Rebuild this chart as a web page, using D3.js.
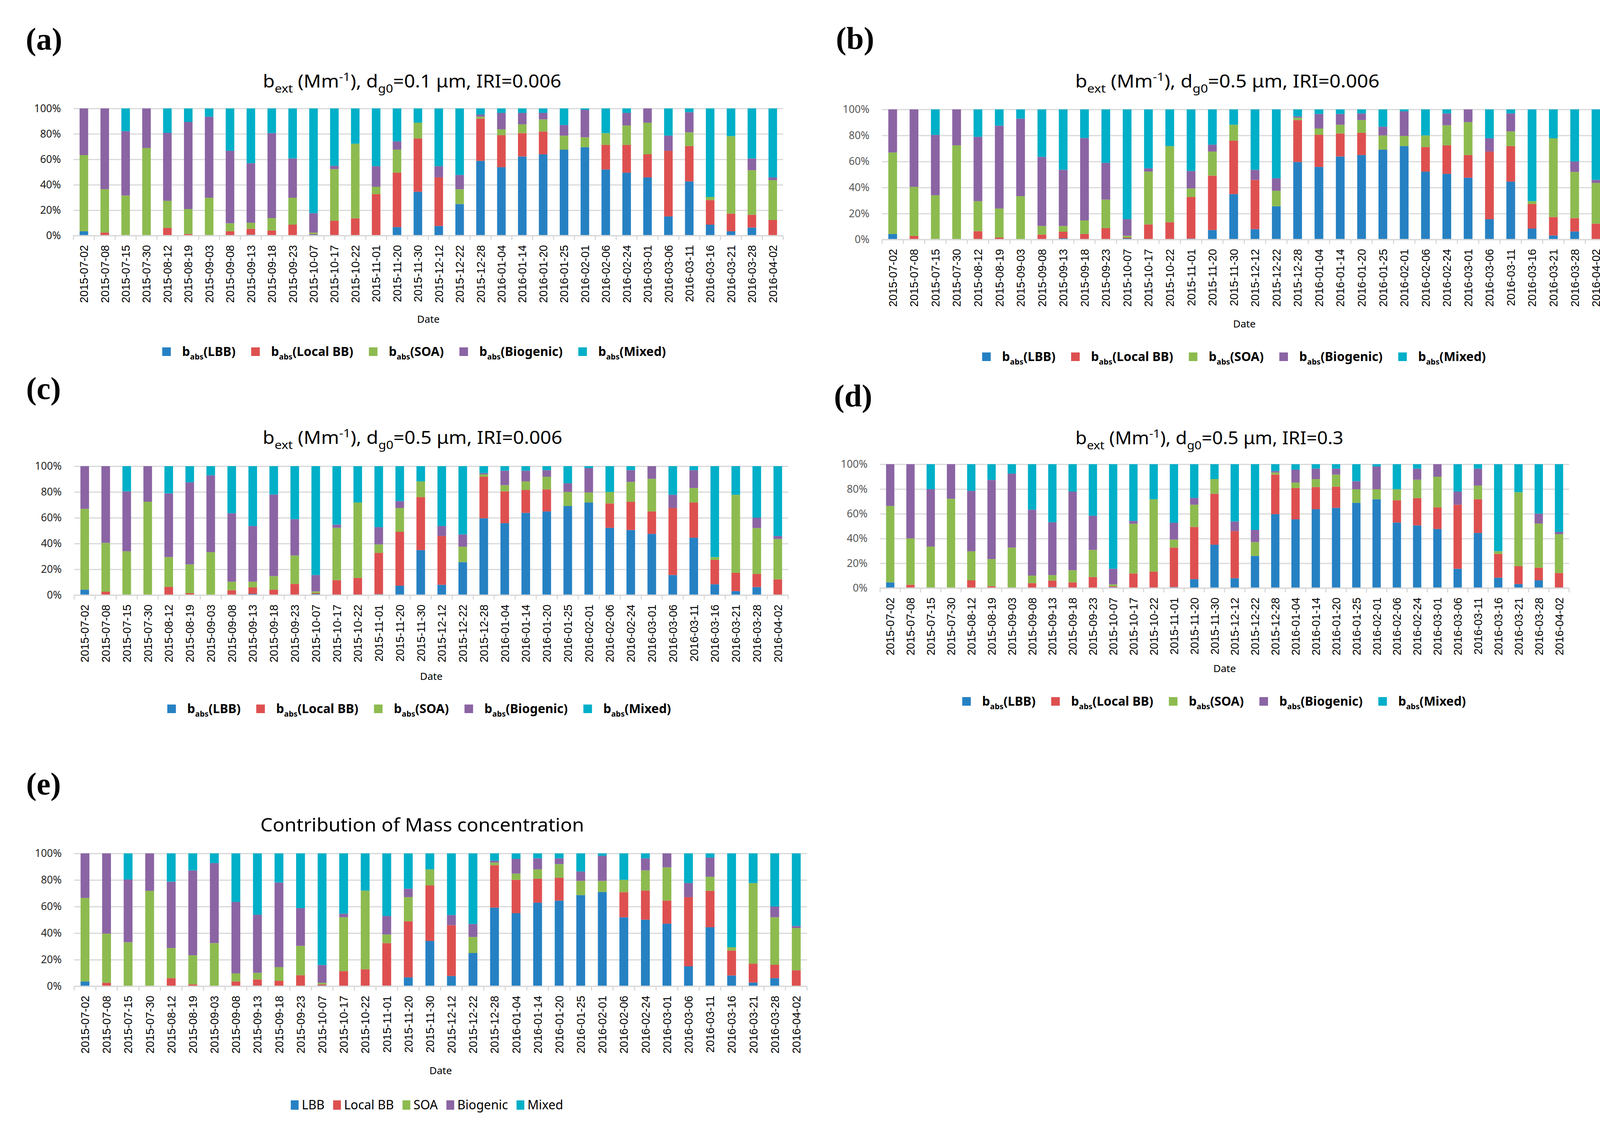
<!DOCTYPE html>
<html><head><meta charset="utf-8">
<script src="https://cdn.jsdelivr.net/npm/d3@7"></script>
<style>body{margin:0;background:#fff;overflow:hidden} svg{display:block} text{white-space:pre}</style>
</head><body>
<svg id="chart" width="4158" height="2897"></svg>
<script>
// ---------- DATA ----------
const dates = ["2015-07-02","2015-07-08","2015-07-15","2015-07-30","2015-08-12","2015-08-19","2015-09-03","2015-09-08","2015-09-13","2015-09-18","2015-09-23","2015-10-07","2015-10-17","2015-10-22","2015-11-01","2015-11-20","2015-11-30","2015-12-12","2015-12-22","2015-12-28","2016-01-04","2016-01-14","2016-01-20","2016-01-25","2016-02-01","2016-02-06","2016-02-24","2016-03-01","2016-03-06","2016-03-11","2016-03-16","2016-03-21","2016-03-28","2016-04-02"];
const seriesKeys = ["LBB","Local BB","SOA","Biogenic","Mixed"];
const seriesColors = ["#2681c3","#de5050","#8dbb4f","#8b64a4","#00afc8"];
const yTickValues = [0,0.2,0.4,0.6,0.8,1];

// (a) b_ext, dg0=0.1 um, IRI=0.006
const lbbA   = [3.4,0,0,0,0,0,0,0,0.7,0,0,0.9,0,0,0,6.7,34.5,7.6,24.8,58.8,53.8,62.2,63.9,67.6,69.5,52.0,49.5,45.8,15.1,42.6,8.6,3.4,6.3,0];
const localA = [0,2.4,0,0,6.1,1.3,0,3.4,4.7,4.1,8.6,0.4,11.7,13.6,32.6,42.8,41.9,38.2,0,33.2,25.2,18.4,18.0,0,0,19.3,21.8,18.1,51.6,27.8,19.3,13.9,10.1,12.3];
const soaA   = [59.9,34.1,31.5,68.9,21.3,19.6,29.8,6.3,4.7,9.7,21.2,1.1,40.6,58.7,5.8,18.1,12.4,0,11.7,1.5,4.6,6.9,9.5,11.0,7.8,9.3,15.3,24.9,0,10.8,2.5,60.9,35.0,31.3];
const bioA   = [36.7,63.5,50.6,31.1,53.4,68.5,63.7,57.0,46.9,66.8,30.9,15.3,2.6,0,16.2,6.5,0,8.8,11.2,1.7,12.9,9.0,5.1,8.4,21.6,0,9.9,11.2,11.9,15.8,0,0,9.3,2.2];
const mixA   = [0,0,17.9,0,19.2,10.6,6.5,33.3,43.0,19.4,39.3,82.3,45.1,27.7,45.4,25.9,11.2,45.4,52.3,4.8,3.5,3.5,3.5,13.0,1.1,19.4,3.5,0,21.4,3.0,69.6,21.8,39.3,54.2];

// (b) and (c) b_ext, dg0=0.5 um, IRI=0.006
const lbbB   = [4.2,0,0,0,0,0,0,0,0.9,0,0,0.9,0,0,0.7,7.3,34.9,8.0,25.6,59.6,55.8,63.8,64.9,69.1,71.8,52.2,50.5,47.5,15.6,44.5,8.4,3.1,6.2,0];
const localB = [0,2.7,0,0,6.4,1.5,0,3.8,5.1,4.2,8.7,0.6,11.6,13.3,32.0,41.8,41.1,37.8,0,32.2,24.7,17.7,17.1,0,0,18.9,21.9,17.4,52.0,27.3,18.9,14.2,10.2,12.2];
const soaB   = [62.7,37.8,34.0,72.4,23.1,22.3,33.3,6.6,4.4,10.5,22.0,1.4,40.6,58.5,6.6,18.5,12.2,0,11.9,1.8,4.8,6.7,9.8,10.9,7.8,8.9,15.4,25.3,0,11.3,2.2,60.5,35.6,31.3];
const bioB   = [33.1,59.5,46.4,27.6,49.4,63.7,59.6,53.1,43.2,63.3,28.2,12.7,2.5,0,13.4,5.3,0,7.8,9.6,1.1,11.2,8.3,5.1,6.7,18.9,0,9.1,9.8,10.2,13.8,0,0,8.0,2.3];
const mixB   = [0,0,19.6,0,21.1,12.5,7.1,36.5,46.4,22.0,41.1,84.4,45.3,28.2,47.3,27.1,11.8,46.4,52.9,5.3,3.5,3.5,3.1,13.3,1.5,20.0,3.1,0,22.2,3.1,70.5,22.2,40.0,54.2];

// (d) b_ext, dg0=0.5 um, IRI=0.3
const lbbD   = [4.6,0,0,0,0,0,0,0,0.8,0,0,0.8,0,0,0.8,7.2,35.0,8.0,26.0,59.7,55.5,63.7,64.8,68.8,71.7,52.9,50.6,47.7,15.6,44.5,8.4,3.2,6.3,0];
const localD = [0,2.7,0,0,6.3,1.5,0,4.0,5.3,4.6,8.9,0.7,11.8,13.3,31.9,42.2,41.2,38.0,0,31.9,25.3,17.9,17.1,0,0,18.0,22.0,17.5,51.7,27.2,19.2,14.5,10.2,12.2];
const soaD   = [61.7,37.4,33.5,72.1,23.4,21.9,32.7,6.1,4.4,9.8,21.9,1.5,40.1,58.4,6.5,17.9,11.8,0,11.1,1.7,4.4,6.4,9.7,11.0,8.1,8.9,14.9,24.7,0,11.0,2.2,59.7,35.6,31.3];
const bioD   = [33.7,59.9,46.3,27.9,48.8,63.9,59.7,53.2,42.7,63.5,27.6,12.6,2.3,0,13.5,5.5,0,7.8,9.9,1.2,10.4,8.4,4.8,6.5,18.3,0,8.9,10.1,10.6,13.7,0,0,8.0,1.9];
const mixD   = [0,0,20.2,0,21.5,12.7,7.6,36.7,46.8,22.1,41.6,84.4,45.8,28.3,47.3,27.2,12.0,46.2,53.0,5.5,4.4,3.6,3.6,13.7,1.9,20.2,3.6,0,22.1,3.6,70.2,22.6,39.9,54.6];

// (e) Contribution of mass concentration
const lbbE   = [3.6,0,0,0,0,0,0,0,0.5,0,0,0.6,0,0,0.5,6.7,34.1,7.7,25.0,59.2,55.0,62.9,64.5,68.6,71.0,51.9,50.1,47.1,15.0,44.4,8.1,2.8,6.1,0];
const localE = [0,2.6,0,0,6.1,1.4,0,3.6,4.6,4.1,8.3,0.8,11.4,12.8,32.0,42.2,41.8,38.3,0,31.9,25.1,18.0,17.2,0,0,18.9,21.9,17.4,52.1,27.4,18.7,14.2,10.1,12.0];
const soaE   = [62.9,37.0,33.1,71.8,22.7,21.9,32.5,6.1,5.0,10.3,22.1,1.2,40.5,59.2,6.4,18.2,12.1,0,12.1,2.0,4.7,7.1,10.2,10.7,8.3,9.3,15.2,25.0,0,10.6,2.6,60.7,35.7,31.8];
const bioE   = [33.5,60.4,47.2,28.2,49.9,63.9,60.2,53.8,43.7,63.7,28.4,13.4,2.7,0,14.0,6.3,0,7.6,9.8,1.4,11.1,8.3,4.4,7.1,18.9,0,9.1,10.5,10.6,14.4,0,0,8.1,1.6];
const mixE   = [0,0,19.7,0,21.3,12.8,7.3,36.5,46.2,21.9,41.2,84.0,45.4,28.0,47.1,26.6,12.0,46.4,53.1,5.5,4.1,3.7,3.7,13.6,1.8,19.9,3.7,0,22.3,3.2,70.6,22.3,40.0,54.6];

// ---------- LAYOUT ----------
const svg = d3.select("#chart");
svg.append("rect").attr("width",4158).attr("height",2897).attr("fill","#fff");

function bextTitle(dg, iri){
  return [["b",""],["ext","sub"],[" (Mm",""],["-1","sup"],["), d",""],["g0","sub"],["="+dg+" \u03bcm, IRI="+iri,""]];
}

const panels = [
  {label:"(a)", lx:66, ly:127, title:bextTitle("0.1","0.006"), tcx:1055, ty:224, tw:764, tsize:45,
   x0:188, x1:2005, yT:277.5, yB:603, dateY:826, lcx:1060, lgY:900, tick:"#1a1a1a",
   series:[lbbA,localA,soaA,bioA,mixA], legendAbs:true},
  {label:"(b)", lx:2140, ly:125, title:bextTitle("0.5","0.006"), tcx:3142, ty:224, tw:779, tsize:45,
   x0:2258, x1:4113, yT:280, yB:613, dateY:838, lcx:3159, lgY:913, tick:"#595959",
   series:[lbbB,localB,soaB,bioB,mixB], legendAbs:true},
  {label:"(c)", lx:67, ly:1021, title:bextTitle("0.5","0.006"), tcx:1056, ty:1136, tw:767, tsize:45,
   x0:190, x1:2018, yT:1193, yB:1523, dateY:1740, lcx:1073, lgY:1814, tick:"#262626",
   series:[lbbB,localB,soaB,bioB,mixB], legendAbs:true},
  {label:"(d)", lx:2135, ly:1040, title:bextTitle("0.5","0.3"), tcx:3096, ty:1137, tw:686, tsize:45,
   x0:2253, x1:4017, yT:1188, yB:1505, dateY:1720, lcx:3108, lgY:1795, tick:"#595959",
   series:[lbbD,localD,soaD,bioD,mixD], legendAbs:true},
  {label:"(e)", lx:67, ly:2033, title:[["Contribution of Mass concentration",""]], tcx:1081, ty:2128, tw:829, tsize:47,
   x0:190, x1:2066, yT:2184, yB:2524, dateY:2749, lcx:1093, lgY:2828, tick:"#262626",
   series:[lbbE,localE,soaE,bioE,mixE], legendAbs:false}
];

function richText(sel, segs, size, scale){
  let shift = 0;
  segs.forEach(([t,mode])=>{
    const target = mode==="sub" ? size*0.28 : mode==="sup" ? -size*0.38 : 0;
    const ts = sel.append("tspan").text(t).attr("dy", target - shift);
    if(mode) ts.attr("font-size", size*scale);
    shift = target;
  });
}
function fitWidth(sel, target, cx){
  const w = sel.node().getBBox().width;
  if(w>0){ const k = target/w; sel.attr("transform",`translate(${cx},0) scale(${k},1) translate(${-cx},0)`); }
}

panels.forEach(p=>{
  const g = svg.append("g");
  // panel label
  g.append("text").attr("x",p.lx).attr("y",p.ly).text(p.label)
    .attr("font-family","Liberation Serif").attr("font-weight","bold").attr("font-size",80).attr("fill","#000");
  // title
  const t = g.append("text").attr("x",p.tcx).attr("y",p.ty).attr("text-anchor","middle")
    .attr("font-family","Noto Sans").attr("font-size",p.tsize).attr("fill","#000");
  richText(t, p.title, p.tsize, 0.66);
  fitWidth(t, p.tw, p.tcx);

  // data table
  const rows = dates.map((d,i)=>{const r={date:d}; seriesKeys.forEach((k,j)=>r[k]=p.series[j][i]); return r;});
  const stack = d3.stack().keys(seriesKeys).offset(d3.stackOffsetExpand)(rows);

  const x = d3.scaleBand().domain(dates).range([p.x0,p.x1]).paddingInner(0.59).paddingOuter(0.295);
  const y = d3.scaleLinear().domain([0,1]).range([p.yB,p.yT]);

  // gridlines
  g.append("g").attr("transform",`translate(${p.x0},0)`)
    .call(d3.axisLeft(y).tickValues(yTickValues).tickSize(-(p.x1-p.x0)).tickFormat(""))
    .call(s=>s.select(".domain").remove())
    .selectAll("line").attr("stroke","#d9d9d9").attr("stroke-width",3);

  // y tick labels
  g.append("g").attr("transform",`translate(${p.x0},0)`)
    .call(d3.axisLeft(y).tickValues(yTickValues).tickFormat(d3.format(".0%")).tickSize(0).tickPadding(32))
    .call(s=>s.select(".domain").remove())
    .selectAll("text").attr("font-family","Noto Sans").attr("font-size",27).attr("fill",p.tick);

  // bars
  g.append("g").selectAll("g").data(stack).join("g").attr("fill",(d,i)=>seriesColors[i])
    .selectAll("rect").data(d=>d).join("rect")
    .attr("x",d=>x(d.data.date)).attr("width",x.bandwidth())
    .attr("y",d=>y(d[1])).attr("height",d=>Math.max(0,y(d[0])-y(d[1])));

  // x axis
  const xg = g.append("g").attr("transform",`translate(0,${p.yB})`)
    .call(d3.axisBottom(x).tickSize(0).tickPadding(0));
  xg.select(".domain").remove();
  xg.selectAll("text").attr("transform","rotate(-90)").attr("text-anchor","end")
    .attr("x",-24).attr("y",0).attr("dy","0.36em")
    .attr("font-family","Liberation Sans").attr("font-size",29).attr("fill","#000");
  g.append("line").attr("x1",p.x0).attr("x2",p.x1).attr("y1",p.yB).attr("y2",p.yB)
    .attr("stroke","#d9d9d9").attr("stroke-width",3);
  g.append("g").selectAll("line").data(d3.range(dates.length+1)).join("line")
    .attr("x1",i=>p.x0+i*x.step()).attr("x2",i=>p.x0+i*x.step())
    .attr("y1",p.yB).attr("y2",p.yB+11).attr("stroke","#d9d9d9").attr("stroke-width",3);

  // axis title
  g.append("text").attr("x",(p.x0+p.x1)/2).attr("y",p.dateY).attr("text-anchor","middle")
    .attr("font-family","Noto Sans").attr("font-size",26).attr("fill","#000").text("Date");

  // legend
  const lg = g.append("g");
  let cur = 0;
  const sq = p.legendAbs ? 22 : 20;
  seriesKeys.forEach((k,i)=>{
    const it = lg.append("g").attr("transform",`translate(${cur},0)`);
    it.append("rect").attr("x",0).attr("y",p.lgY - (p.legendAbs?11:12)).attr("width",sq).attr("height",p.legendAbs?22:24).attr("fill",seriesColors[i]);
    const tx = it.append("text").attr("x", sq + (p.legendAbs?29:8)).attr("y",p.lgY+11)
      .attr("font-family","Noto Sans").attr("font-size",32)
      .attr("font-weight",p.legendAbs?"bold":"normal").attr("fill","#000");
    if(p.legendAbs) richText(tx, [["b",""],["abs","sub"],["("+k+")",""]], 32, 0.62);
    else tx.text(k);
    const w = sq + (p.legendAbs?29:8) + tx.node().getComputedTextLength();
    cur += w + (p.legendAbs?40:22);
  });
  const total = cur - (p.legendAbs?40:22);
  lg.attr("transform",`translate(${p.lcx - total/2},0)`);
});
</script>
</body></html>
